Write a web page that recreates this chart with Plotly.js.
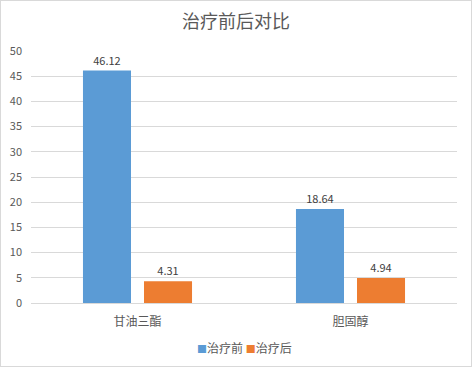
<!DOCTYPE html>
<html><head><meta charset="utf-8">
<script src="https://cdn.plot.ly/plotly-3.0.1.min.js"></script>
<style>
html,body{margin:0;padding:0;background:#fff;}
#wrap{position:relative;width:472px;height:367px;}
#chart{width:472px;height:367px;}
#border{position:absolute;left:0;top:0;width:470px;height:365px;border:1px solid #d9d9d9;pointer-events:none;}
</style></head>
<body>
<div id="wrap"><div id="chart"></div><div id="border"></div></div>
<script>
const categories = ["甘油三酯", "胆固醇"];
const seriesNames = ["治疗前", "治疗后"];
const seriesColors = ["#5b9bd5", "#ed7d31"];
const beforeValues = [46.12, 18.64];
const afterValues = [4.31, 4.94];
const yTicks = [0, 5, 10, 15, 20, 25, 30, 35, 40, 45, 50];

const font = "Noto Sans CJK SC, Noto Sans, sans-serif";
function mk(name, vals, color){
  return {
    type: "bar", name: name, x: categories, y: vals,
    marker: {color: color},
    text: vals.map(v => v.toFixed(2)), textposition: "outside",
    textfont: {size: 11, color: "#404040", family: font},
    cliponaxis: false, hoverinfo: "none"
  };
}
const data = [mk(seriesNames[0], beforeValues, seriesColors[0]), mk(seriesNames[1], afterValues, seriesColors[1])];
const legendText = seriesNames.map((n, i) =>
  "<span style='color:" + seriesColors[i] + ";font-size:10px'>■</span>" + n).join(" ");
const layout = {
  width: 472, height: 367,
  margin: {l: 31, r: 15, t: 51, b: 64},
  paper_bgcolor: "#fff", plot_bgcolor: "#fff",
  font: {family: font, color: "#595959", size: 11},
  title: {text: "治疗前后对比", font: {size: 18, color: "#595959", family: font}, x: 0.5, xanchor: "center", y: 0.94, yanchor: "middle"},
  barmode: "group", bargap: 0.427, bargroupgap: 0.213,
  xaxis: {showline: true, linecolor: "#d9d9d9", linewidth: 1, ticks: "", tickfont: {size: 12, color: "#595959"}, ticklabelstandoff: 8, fixedrange: true},
  yaxis: {range: [0, 50], tickvals: yTicks, showgrid: true, gridcolor: "#d9d9d9", gridwidth: 1, zeroline: false, showline: false, ticks: "", tickfont: {size: 11, color: "#595959"}, ticklabelstandoff: 8, fixedrange: true},
  showlegend: false,
  annotations: [{
    text: legendText, xref: "paper", yref: "paper", x: 0.5, xanchor: "center",
    y: -0.175, yanchor: "middle", showarrow: false,
    font: {size: 12, color: "#595959", family: font}
  }]
};
Plotly.newPlot("chart", data, layout, {displayModeBar: false, staticPlot: true});
</script>
</body></html>
